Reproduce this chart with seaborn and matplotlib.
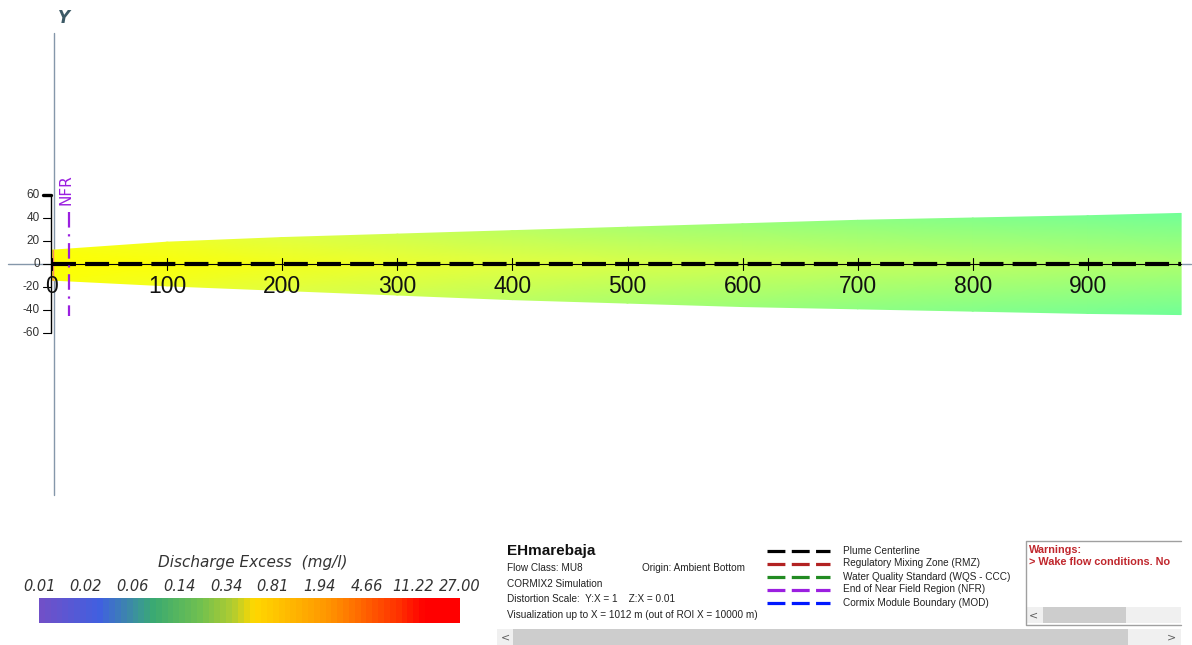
"""
CORMIX-style plan view of the EHmarebaja plume, rebuilt with seaborn/matplotlib.
Saves out.png (1192 x 645 px).
"""

import matplotlib.pyplot as plt
import numpy as np
import pandas as pd
import seaborn as sns
from matplotlib.cm import ScalarMappable
from matplotlib.colors import LinearSegmentedColormap, Normalize
from matplotlib.patches import Rectangle

# ---------------------------------------------------------------------------
# Data (metres)
# ---------------------------------------------------------------------------
PLUME_X = [0, 100, 200, 300, 400, 500, 600, 700, 800, 900, 981]
PLUME_TOP = [12, 19, 23, 26, 29, 32, 35, 38, 40, 42, 44]
PLUME_BOT = [-14, -19, -23, -27, -31, -34, -37, -39, -41, -43, -44]
# colour index along the plume: 0 = yellow (strong), 1 = pale green (diluted)
PLUME_CORE = [0.0, 0.04, 0.12, 0.20, 0.28, 0.35, 0.42, 0.48, 0.53, 0.58, 0.62]
PLUME_EDGE = [0.04, 0.16, 0.30, 0.42, 0.54, 0.64, 0.72, 0.80, 0.86, 0.92, 0.97]
PLUME_COLORS = ["#ffff00", "#e8ff3a", "#c4ff5c", "#98ff7c", "#6cff9c"]

NFR_X = 15
NFR_Y = [45, -45]

X_TICKS = [0, 100, 200, 300, 400, 500, 600, 700, 800, 900]
Y_TICKS = [60, 40, 20, 0, -20, -40, -60]

CBAR_TITLE = "Discharge Excess  (mg/l)"
CBAR_LABELS = ["0.01", "0.02", "0.06", "0.14", "0.34", "0.81", "1.94", "4.66", "11.22", "27.00"]
CBAR_STOPS = [
    (0.00, "#7050c8"), (0.14, "#4060e0"), (0.24, "#3a9a90"), (0.27, "#3aaa70"),
    (0.38, "#70c050"), (0.46, "#b0cc30"), (0.51, "#ffd800"), (0.62, "#ffb000"),
    (0.70, "#ff9000"), (0.78, "#ff6000"), (0.86, "#ff3000"), (0.92, "#ff0000"),
    (1.00, "#ff0000"),
]

CASE_NAME = "EHmarebaja"
INFO_LINES = [
    "Flow Class: MU8",
    "CORMIX2 Simulation",
    "Distortion Scale:  Y:X = 1    Z:X = 0.01",
    "Visualization up to X = 1012 m (out of ROI X = 10000 m)",
]
ORIGIN_TEXT = "Origin: Ambient Bottom"

LEGEND_NAMES = [
    "Plume Centerline",
    "Regulatory Mixing Zone (RMZ)",
    "Water Quality Standard (WQS - CCC)",
    "End of Near Field Region (NFR)",
    "Cormix Module Boundary (MOD)",
]
LEGEND_COLORS = ["#000000", "#b22222", "#228b22", "#9b1fe0", "#0018ff"]
WARNINGS = ["Warnings:", "> Wake flow conditions. No"]

# ---------------------------------------------------------------------------
W, H = 1192, 645
X0_PX, Y0_PX = 52, 264          # pixel position of the origin
SX, SY = 1.151, 1.15            # pixels per metre
GREY_AXIS = "#8597aa"

sns.set_theme(style="white")
plt.rcParams["font.family"] = ["DejaVu Sans"]

fig = plt.figure(figsize=(W / 100, H / 100), dpi=100)

# overlay in pixel units for the panel furniture at the bottom
ov = fig.add_axes([0, 0, 1, 1])
ov.set_xlim(0, W)
ov.set_ylim(H, 0)
ov.axis("off")

# main plan-view axes (top 500 px)
ax = fig.add_axes([0, 1 - 500 / H, 1, 500 / H])
ax.set_xlim(-X0_PX / SX, (W - X0_PX) / SX)
ax.set_ylim(-(500 - Y0_PX) / SY, Y0_PX / SY)
ax.axis("off")

# grey reference axes
ax.plot([-38, 990], [0, 0], color=GREY_AXIS, lw=1, zorder=0)
ax.plot([1.7, 1.7], [-201, 201], color=GREY_AXIS, lw=1, zorder=0)
ax.text(10.4, 214, "Y", fontsize=12, fontweight="bold", style="italic",
        color="#3d5a66", ha="center", va="center")

# plume body, gouraud shaded between edge / centre / edge
xs = np.array([PLUME_X] * 3, dtype=float)
ys = np.array([PLUME_BOT, [0] * len(PLUME_X), PLUME_TOP], dtype=float)
cs = np.array([PLUME_EDGE, PLUME_CORE, PLUME_EDGE])
plume_cmap = LinearSegmentedColormap.from_list("plume", PLUME_COLORS)
ax.pcolormesh(xs, ys, cs, shading="gouraud", cmap=plume_cmap, vmin=0, vmax=1, zorder=1)
ax.plot([0.6, 0.6], [PLUME_BOT[0], PLUME_TOP[0]], color="#ff8a6a", lw=1, zorder=2)

# black distance axis with "+" ticks
ax.plot([0, PLUME_X[-1]], [0, 0], color="black", lw=0.8, zorder=3)
for xt in X_TICKS:
    ax.plot([xt, xt], [-5, 5], color="black", lw=0.8, zorder=3)
    ax.text(xt, -19.5, str(xt), ha="center", va="center", fontsize=16.5,
            family="Liberation Sans", color="#111111", zorder=4)

# small lateral axis
ax.plot([-1, -1], [Y_TICKS[-1], Y_TICKS[0]], color="black", lw=1, zorder=3)
for yt in Y_TICKS:
    ax.plot([-8, -1], [yt, yt], color="black", lw=2.4 if yt == Y_TICKS[0] else 0.8, zorder=3)
    ax.text(-10.5, yt, str(yt), ha="right", va="center", fontsize=8.5,
            family="Liberation Sans", color="#333333", zorder=4)

# plume centreline
centre = pd.DataFrame({"x": [0, PLUME_X[-1]], "y": [0, 0]})
sns.lineplot(data=centre, x="x", y="y", ax=ax, color="black", lw=3,
             linestyle=(0, (5.75, 2.2)), estimator=None, sort=False, zorder=5)

# end of near field region
nfr = pd.DataFrame({"x": [NFR_X, NFR_X], "y": NFR_Y})
sns.lineplot(data=nfr, x="x", y="y", ax=ax, color="#9b1fe0", lw=1.6,
             linestyle=(0, (7, 3, 1, 3)), estimator=None, sort=False, zorder=6)
ax.text(NFR_X - 2.5, 64.3, "NFR", rotation=90, ha="center", va="center",
        fontsize=11, color="#9b1fe0")

# ---------------------------------------------------------------------------
# colour bar
# ---------------------------------------------------------------------------
cax = fig.add_axes([39 / W, 1 - 623 / H, 421 / W, 25 / H])
bar_cmap = LinearSegmentedColormap.from_list("excess", CBAR_STOPS, N=72)
cb = fig.colorbar(ScalarMappable(norm=Normalize(0, len(CBAR_LABELS) - 1), cmap=bar_cmap),
                  cax=cax, orientation="horizontal")
cb.outline.set_visible(False)
cax.xaxis.set_ticks_position("top")
cax.set_xticks(range(len(CBAR_LABELS)), CBAR_LABELS)
cax.tick_params(length=0, pad=3, labelsize=10.5, labelcolor="#333333")
for lab in cax.get_xticklabels():
    lab.set_style("italic")
ov.text(253, 563, CBAR_TITLE, ha="center", va="center", fontsize=11,
        style="italic", color="#333333")

# ---------------------------------------------------------------------------
# info block
# ---------------------------------------------------------------------------
ov.text(507, 551, CASE_NAME, ha="left", va="center", fontsize=11,
        fontweight="bold", family="Liberation Sans", color="#111111")
for i, line in enumerate(INFO_LINES):
    ov.text(507, 568 + 15.7 * i, line, ha="left", va="center", fontsize=7.2,
            family="Liberation Sans", color="#222222")
ov.text(642, 568, ORIGIN_TEXT, ha="left", va="center", fontsize=7.2,
        family="Liberation Sans", color="#222222")

for i, (name, col) in enumerate(zip(LEGEND_NAMES, LEGEND_COLORS)):
    yy = 550.5 + 13 * i
    ov.plot([767, 830], [yy, yy], color=col, lw=2.3, linestyle=(0, (5.6, 2.0)),
            solid_capstyle="butt", dash_capstyle="butt")
    ov.text(843, yy, name, ha="left", va="center", fontsize=7.2,
            family="Liberation Sans", color="#222222")

# warnings box
ov.plot([1181, 1025.5, 1025.5, 1181], [541, 541, 625, 625], color="#a0a0a0", lw=1)
ov.text(1029, 550, WARNINGS[0], ha="left", va="center", fontsize=7.8,
        fontweight="bold", family="Liberation Sans", color="#c0272d")
ov.text(1029, 562, WARNINGS[1], ha="left", va="center", fontsize=7.8,
        fontweight="bold", family="Liberation Sans", color="#c0272d", clip_on=True)
ov.add_patch(Rectangle((1026, 607), 155, 16, facecolor="#f0f0f0", edgecolor="none"))
ov.add_patch(Rectangle((1043, 607), 83, 16, facecolor="#cdcdcd", edgecolor="none"))
ov.text(1034, 615, "<", ha="center", va="center", fontsize=8, color="#606060")

# bottom scroll bar
ov.add_patch(Rectangle((497, 629), 684, 16, facecolor="#f0f0f0", edgecolor="none"))
ov.add_patch(Rectangle((513, 629), 615, 16, facecolor="#cdcdcd", edgecolor="none"))
ov.text(505, 637, "<", ha="center", va="center", fontsize=8, color="#606060")
ov.text(1172, 637, ">", ha="center", va="center", fontsize=8, color="#606060")

fig.savefig("out.png", dpi=100)
